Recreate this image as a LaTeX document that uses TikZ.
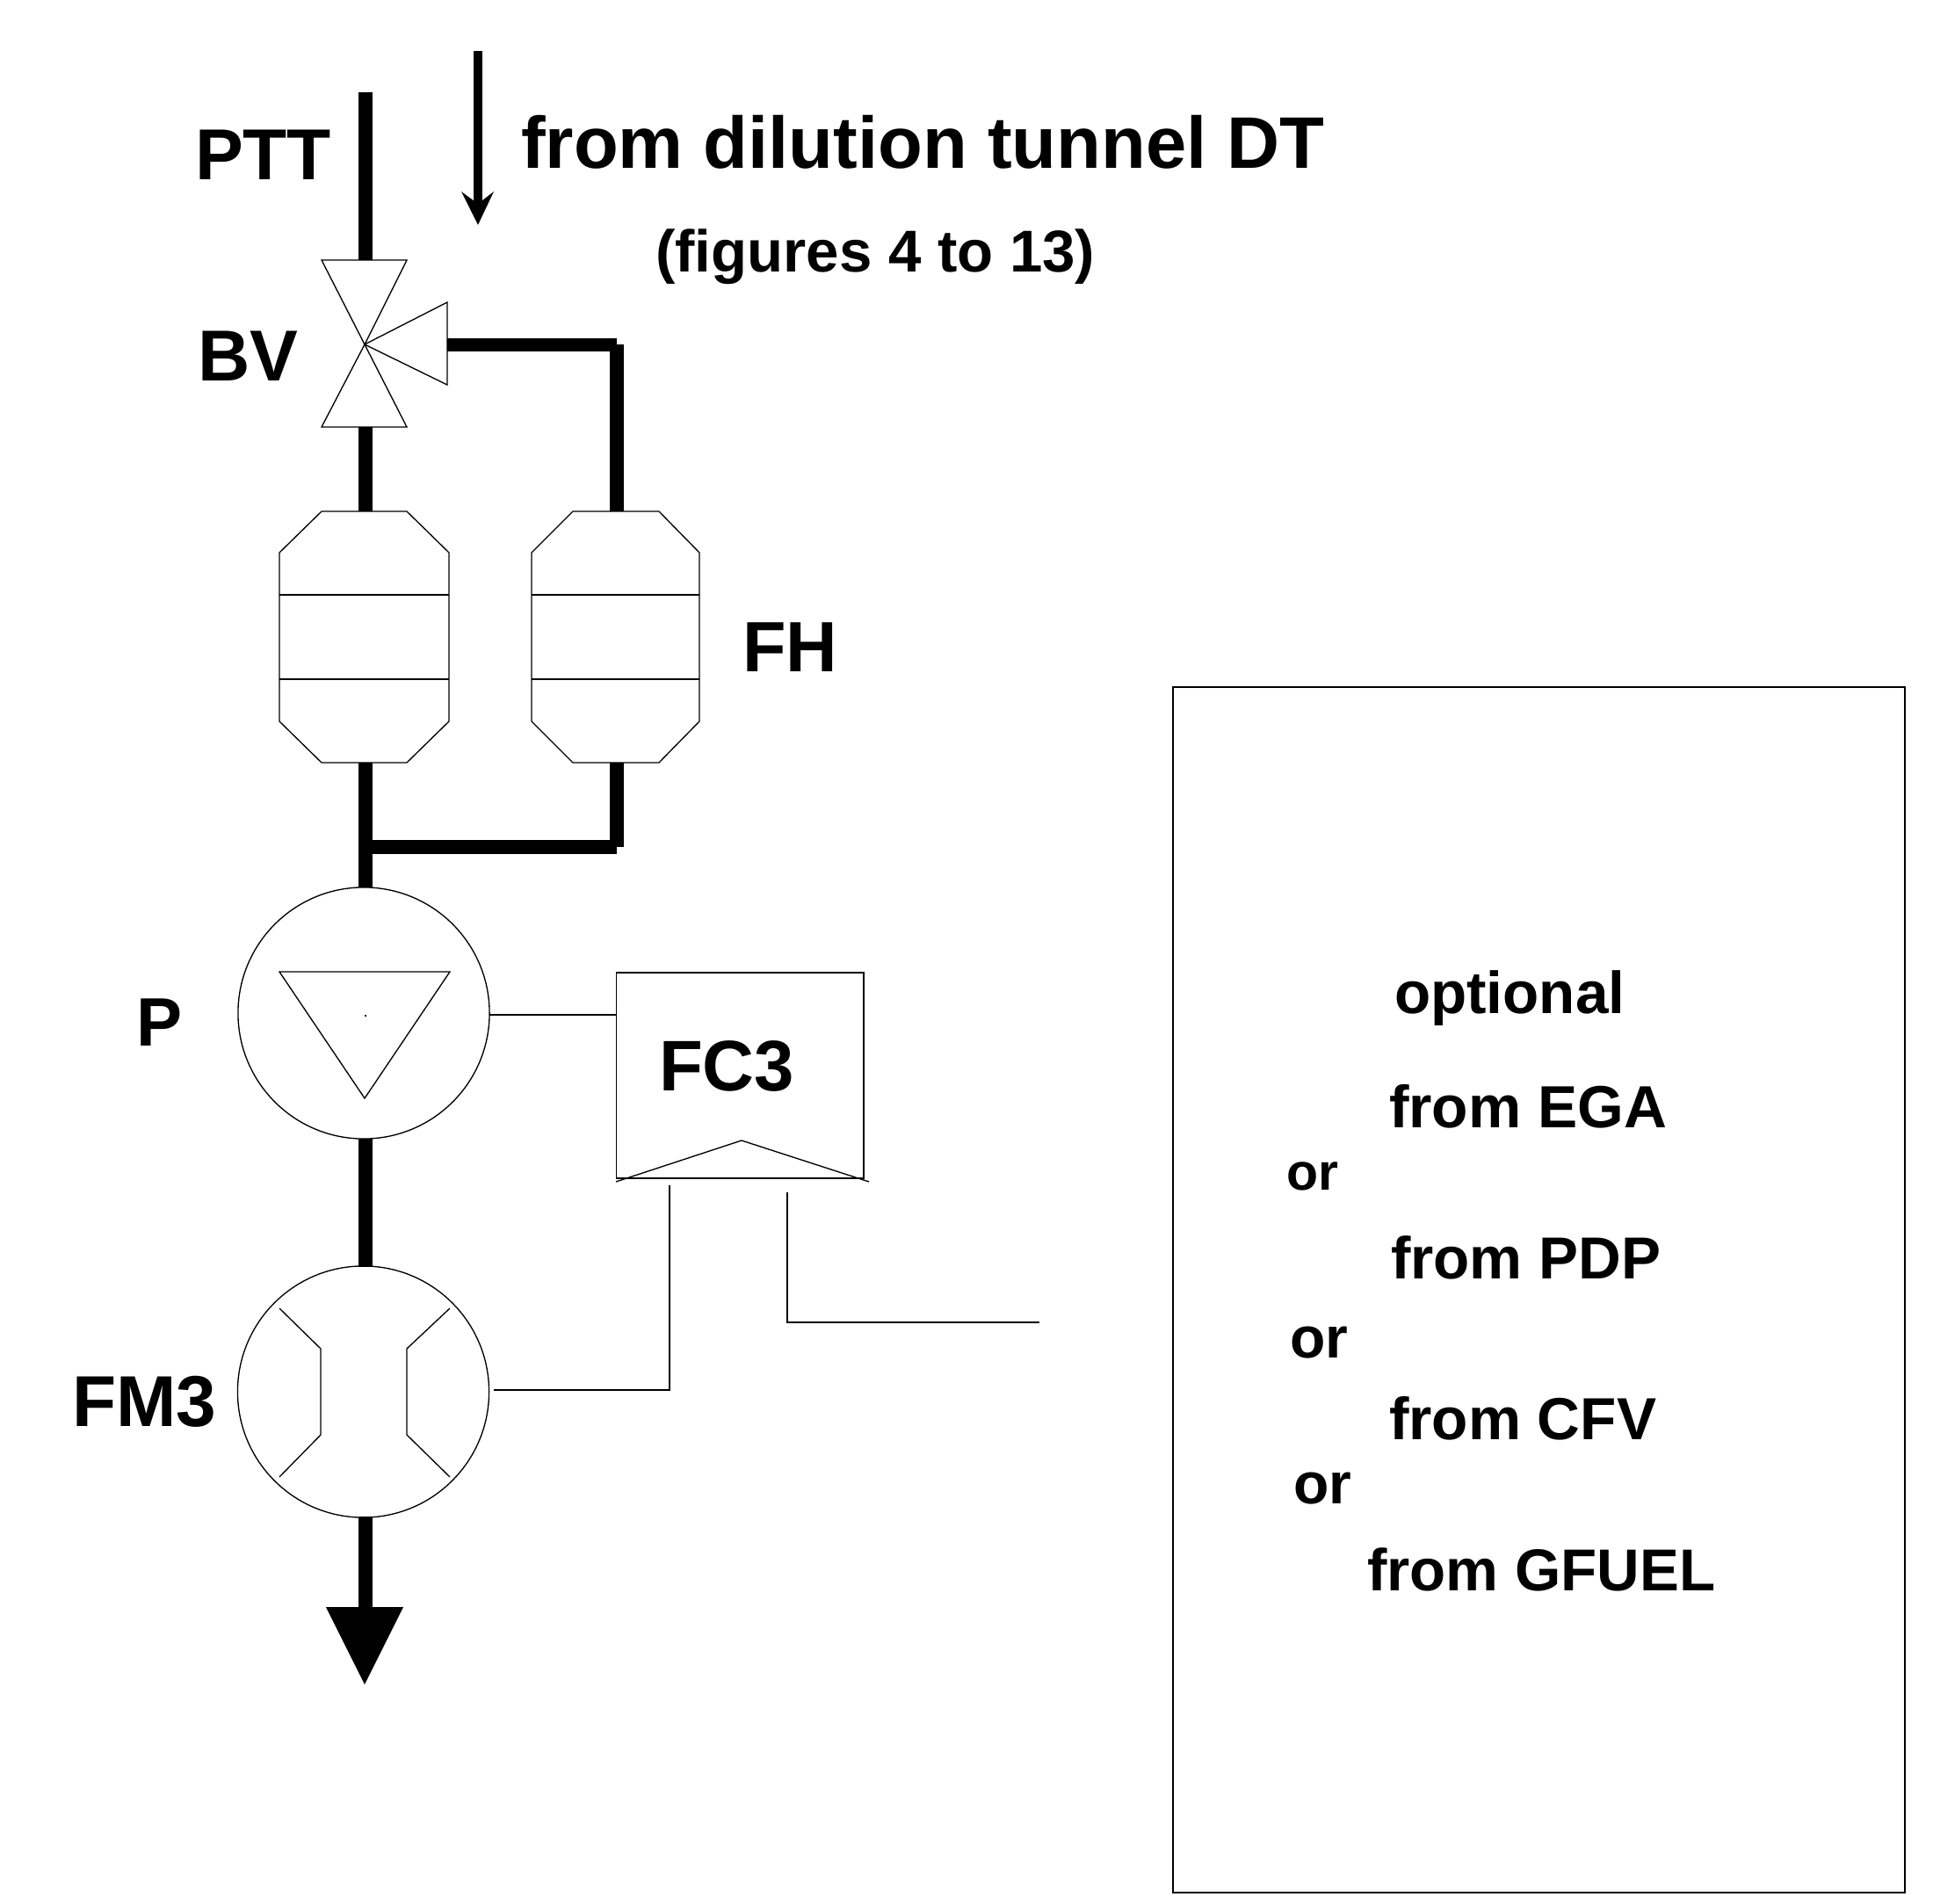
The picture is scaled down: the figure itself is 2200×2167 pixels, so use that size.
\documentclass[tikz,border=0pt]{standalone}
\usepackage{fontspec}
\setmainfont{Liberation Sans}
\usepackage{graphicx}
\tikzset{
  thinline/.style={draw=black,line width=0.38pt,line join=miter},
  pipe/.style={draw=black,line width=0.155cm},
  lab/.style={anchor=base west,inner sep=0pt,outer sep=0pt,font=\bfseries},
  unitcircle/.style={circle,thinline,minimum size=2.86cm,inner sep=0pt},
  pt/.style={inner sep=0pt,outer sep=0pt,minimum size=0pt}
}
\newcommand{\lbl}[5]{\node[lab] (#1) at (#2,#3) {\resizebox{#4cm}{!}{\fontsize{24}{28}\selectfont #5}};}
\begin{document}
\begin{tikzpicture}[x=0.01cm,y=-0.01cm]
\useasboundingbox (0,0) rectangle (2200,2167);
% valve
\coordinate (bvc) at (415,392);
\draw[thinline] (bvc) -- (366,296) -- (463,296) -- cycle;
\draw[thinline] (bvc) -- (366,486) -- (463,486) -- cycle;
\draw[thinline] (bvc) -- (509,344) -- (509,438) -- cycle;
% filter holders
\draw[thinline] (366,582) -- (463,582) -- (511,629) -- (511,821) -- (463,868) -- (366,868) -- (318,821) -- (318,629) -- cycle;
\draw[thinline] (318,677) -- (511,677) (318,773) -- (511,773);
\draw[thinline] (652,582) -- (750,582) -- (796,629) -- (796,821) -- (750,868) -- (652,868) -- (605,821) -- (605,629) -- cycle;
\draw[thinline] (605,677) -- (796,677) (605,773) -- (796,773);
% pipe end points
\coordinate (ptttop) at (416,105);
\coordinate (bvtop) at (416,296);
\coordinate (bvbot) at (416,486);
\coordinate (bvright) at (509,392.5);
\coordinate (cornerA) at (702,392.5);
\coordinate (fh1top) at (416,582);
\coordinate (fh2top) at (702,582);
\coordinate (fh1bot) at (416,868);
\coordinate (fh2bot) at (702,868);
\coordinate (tee) at (416,964);
\coordinate (cornerB) at (702,964);
\coordinate (ptop) at (416,1010);
\coordinate (pbot) at (416,1296);
\coordinate (fmtop) at (416,1442);
\coordinate (fmbot) at (416,1726);
\coordinate (headbase) at (416,1830);
% circles
\node[unitcircle] (P) at (414,1153) {};
\node[unitcircle] (FMthree) at (413.5,1584) {};
\draw[thinline] (318,1106) -- (512,1106) -- (415,1250) -- cycle;
\fill (414.5,1154.5) rectangle (416.5,1156.5);
\draw[thinline] (318,1489) -- (365,1535) -- (365,1633) -- (318,1681);
\draw[thinline] (512,1489) -- (463,1535) -- (463,1633) -- (512,1681);
% pipes
\draw[pipe] (ptttop) -- (bvtop);
\draw[pipe] (bvbot) -- (fh1top);
\draw[pipe] (bvright) -- (cornerA);
\draw[pipe] (cornerA) -- (fh2top);
\draw[pipe] (fh1bot) -- (ptop);
\draw[pipe] (fh2bot) -- (cornerB);
\draw[pipe] (tee) -- (cornerB);
\draw[pipe] (pbot) -- (fmtop);
\draw[pipe] (fmbot) -- (headbase);
\node[pt] (tip) at (415,1917) {};
\fill (371,1829) -- (459,1829) -- (tip.center) -- cycle;
% small flow arrow
\coordinate (atop) at (544,58);
\coordinate (abase) at (544,232);
\draw[draw=black,line width=0.1cm] (atop) -- (abase);
\fill (525,218) -- (544,232) -- (562,218) -- (544,256) -- cycle;
% controller
\draw[thinline] (701.5,1107) rectangle (983,1341);
\draw[thinline] (701,1345) -- (844,1298) -- (989,1345);
\coordinate (pE) at (557,1155);
\coordinate (fcW) at (701.5,1155);
\draw[thinline] (pE) -- (fcW);
\coordinate (fcA) at (762,1349);
\coordinate (fcAc) at (762,1582);
\coordinate (fmE) at (562,1582);
\draw[thinline] (fcA) -- (fcAc) -- (fmE);
\coordinate (fcB) at (896,1357);
\coordinate (fcBc) at (896,1505);
\coordinate (free) at (1183,1505);
\draw[thinline] (fcB) -- (fcBc) -- (free);
% optional box
\draw[thinline] (1335,782) rectangle (2168,2154);
% labels
\lbl{ptt}{222}{205}{1.55}{PTT}
\lbl{from}{593}{192}{9.14}{from dilution tunnel DT}
\lbl{figs}{746}{310}{5.00}{(figures 4 to 13)}
\lbl{bv}{225}{433}{1.14}{BV}
\lbl{fh}{845}{764}{1.08}{FH}
\lbl{p}{155}{1190}{0.52}{P}
\lbl{fcthree}{750}{1241}{1.54}{FC3}
\lbl{fm}{82}{1623}{1.64}{FM3}
\lbl{opt}{1587}{1153}{2.62}{optional}
\lbl{ega}{1581}{1283}{3.16}{from EGA}
\lbl{or1}{1464}{1354}{0.59}{or}
\lbl{pdp}{1583}{1455}{3.07}{from PDP}
\lbl{or2}{1468}{1545}{0.66}{or}
\lbl{cfv}{1581}{1638}{3.04}{from CFV}
\lbl{or3}{1472}{1711}{0.66}{or}
\lbl{gfuel}{1556}{1810}{3.96}{from GFUEL}
\end{tikzpicture}
\end{document}
